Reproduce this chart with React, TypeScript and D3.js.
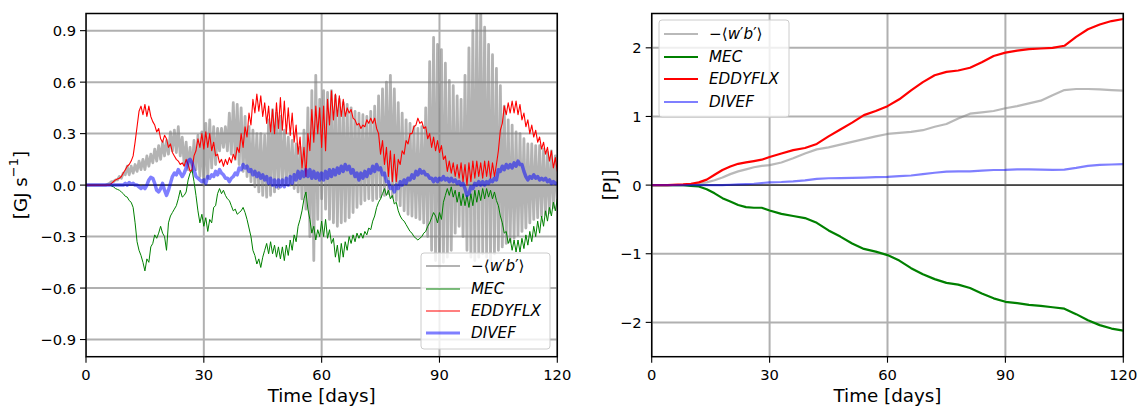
import React from "react";
import * as d3 from "d3";

// ---------- Left panel: instantaneous rates [GJ s^-1], sampled every 0.5 day ----------
const rateDays = d3.range(0, 120.5, 0.5);

const wbRate = [
  0, 0, 0, 0, 0, 0, 0, 0, 0, 0,
  0, 0.005, 0.01, 0.02, 0.02, 0.03, 0.03, 0.05, 0.04, 0.07,
  0.06, 0.11, 0.06, 0.11, 0.07, 0.12, 0.08, 0.14, 0.09, 0.15,
  0.09, 0.17, 0.11, 0.18, 0.13, 0.21, 0.14, 0.23, 0.15, 0.25,
  0.17, 0.26, 0.18, 0.31, 0.2, 0.32, 0.19, 0.34, 0.17, 0.28,
  0.12, 0.25, 0.09, 0.22, 0.08, 0.26, 0.09, 0.29, 0.05, 0.31,
  0.0, 0.36, 0.04, 0.38, 0.1, 0.34, 0.12, 0.33, 0.2, 0.33,
  0.22, 0.34, 0.2, 0.42, 0.18, 0.48, 0.15, 0.47, 0.12, 0.45,
  0.08, 0.4, 0.05, 0.34, 0.02, 0.32, -0.01, 0.3, -0.04, 0.3,
  -0.06, 0.29, -0.07, 0.38, -0.06, 0.44, -0.04, 0.42, -0.02, 0.4,
  0.0, 0.32, 0.01, 0.28, 0.0, 0.26, -0.02, 0.24, -0.04, 0.22,
  -0.08, 0.32, -0.14, 0.45, -0.3, 0.55, -0.44, 0.64, -0.2, 0.5,
  -0.08, 0.55, -0.14, 0.54, -0.2, 0.55, -0.22, 0.52, -0.24, 0.5,
  -0.22, 0.48, -0.21, 0.47, -0.19, 0.45, -0.16, 0.43, -0.13, 0.42,
  -0.11, 0.41, -0.09, 0.4, -0.08, 0.43, -0.09, 0.46, -0.08, 0.52,
  -0.07, 0.56, -0.06, 0.6, -0.05, 0.64, -0.07, 0.56, -0.09, 0.48,
  -0.12, 0.42, -0.15, 0.38, -0.17, 0.36, -0.18, 0.34, -0.19, 0.33,
  -0.2, 0.34, -0.22, 0.45, -0.3, 0.72, -0.38, 0.86, -0.44, 0.82,
  -0.48, 0.79, -0.45, 0.71, -0.42, 0.61, -0.38, 0.58, -0.28, 0.52,
  -0.24, 0.5, -0.3, 0.64, -0.38, 0.8, -0.42, 0.9, -0.44, 1.0,
  -0.42, 1.05, -0.4, 0.92, -0.42, 0.82, -0.44, 0.76, -0.4, 0.68,
  -0.38, 0.58, -0.36, 0.46, -0.34, 0.38, -0.33, 0.35, -0.31, 0.31,
  -0.29, 0.3, -0.27, 0.27, -0.25, 0.24, -0.22, 0.24, -0.2, 0.23,
  -0.19, 0.23, -0.18, 0.21, -0.17, 0.19, -0.16, 0.2, -0.13, 0.17,
  -0.1,
];

const mecRate = [
  0, 0, 0, 0, 0, 0, 0, 0, 0, 0,
  0, 0, 0, -0.005, -0.01, -0.02, -0.025, -0.03, -0.04, -0.05,
  -0.065, -0.07, -0.09, -0.1, -0.13, -0.22, -0.33, -0.38, -0.41, -0.45,
  -0.5, -0.43, -0.45, -0.36, -0.34, -0.29, -0.31, -0.28, -0.24, -0.28,
  -0.3, -0.38, -0.22, -0.18, -0.16, -0.14, -0.12, -0.08, -0.03, -0.07,
  -0.06, -0.04, 0.03, 0.07, 0.09, 0.02, -0.06, -0.15, -0.22, -0.17,
  -0.24, -0.19, -0.27, -0.2, -0.22, -0.13, -0.12, -0.05, -0.02, -0.05,
  -0.03, -0.06, -0.08, -0.09, -0.12, -0.15, -0.14, -0.17, -0.16, -0.15,
  -0.13, -0.16, -0.2, -0.25, -0.3, -0.38, -0.41, -0.46, -0.43, -0.48,
  -0.42, -0.38, -0.34, -0.4, -0.33, -0.4, -0.35, -0.42, -0.36, -0.43,
  -0.36, -0.44, -0.35, -0.41, -0.32, -0.38, -0.29, -0.33, -0.24, -0.2,
  -0.15, -0.08, -0.04, -0.14, -0.2, -0.28, -0.24, -0.32, -0.26, -0.3,
  -0.21, -0.3, -0.2, -0.31, -0.26, -0.34, -0.31, -0.42, -0.35, -0.45,
  -0.34, -0.42, -0.33, -0.38, -0.3, -0.34, -0.29, -0.33, -0.28, -0.31,
  -0.28, -0.31, -0.27, -0.29, -0.25, -0.26, -0.21, -0.18, -0.13, -0.1,
  -0.08, -0.05, -0.02, -0.06, -0.03, -0.08, -0.06, -0.11, -0.1, -0.15,
  -0.18, -0.2, -0.21, -0.23, -0.25, -0.27, -0.28, -0.3, -0.31, -0.32,
  -0.31, -0.3, -0.28, -0.27, -0.24, -0.22, -0.19, -0.16, -0.18, -0.22,
  -0.16, -0.2, -0.1, -0.06, -0.02, -0.06, -0.01, -0.07, -0.03, -0.1,
  -0.04, -0.12, -0.05, -0.12, -0.06, -0.13, -0.05, -0.12, -0.03, -0.1,
  -0.03, -0.09, -0.02, -0.08, -0.02, -0.07, -0.03, -0.08, -0.04, -0.09,
  -0.12, -0.18, -0.22, -0.28, -0.27, -0.34, -0.31, -0.38, -0.32, -0.39,
  -0.32, -0.39, -0.31, -0.37, -0.29, -0.35, -0.27, -0.33, -0.24, -0.3,
  -0.21, -0.28, -0.18, -0.24, -0.15, -0.21, -0.13, -0.18, -0.1, -0.15,
  -0.08,
];

const eddyRate = [
  0, 0, 0, 0, 0, 0, 0, 0, 0, 0,
  0, 0, 0, 0.01, 0.02, 0.03, 0.035, 0.04, 0.05, 0.07,
  0.09, 0.11, 0.12, 0.14, 0.17, 0.25, 0.34, 0.43, 0.46, 0.41,
  0.47, 0.4, 0.46, 0.4, 0.37, 0.35, 0.31, 0.33, 0.27, 0.25,
  0.29, 0.27, 0.22, 0.24, 0.19, 0.17, 0.15, 0.14, 0.12, 0.13,
  0.11, 0.15, 0.12, 0.08, 0.09, 0.17, 0.2, 0.27, 0.22, 0.3,
  0.21, 0.31, 0.22, 0.3, 0.2, 0.25, 0.17, 0.18, 0.13, 0.15,
  0.11, 0.15, 0.12, 0.16, 0.13, 0.18, 0.15, 0.22, 0.19, 0.3,
  0.22, 0.34, 0.28, 0.42, 0.35, 0.5, 0.42, 0.53, 0.43, 0.52,
  0.4, 0.48, 0.36, 0.46, 0.31, 0.44, 0.3, 0.48, 0.33, 0.51,
  0.32, 0.49, 0.3, 0.45, 0.29, 0.42, 0.25, 0.35, 0.18, 0.28,
  0.1, 0.22, 0.05, 0.3, 0.2, 0.44, 0.25, 0.46, 0.3, 0.45,
  0.22, 0.46, 0.2, 0.5, 0.35, 0.55, 0.38, 0.53, 0.4, 0.52,
  0.4, 0.5, 0.4, 0.45, 0.42, 0.44, 0.39, 0.38, 0.35, 0.36,
  0.33, 0.35, 0.34, 0.38, 0.36, 0.39, 0.36, 0.39, 0.33, 0.3,
  0.18, 0.26, 0.12, 0.22, 0.05, 0.2, 0.02, 0.18, 0.02, 0.15,
  0.12, 0.2, 0.18, 0.26, 0.24, 0.3, 0.3, 0.34, 0.35, 0.39,
  0.36, 0.37, 0.33, 0.34, 0.27, 0.3, 0.22, 0.28, 0.2, 0.26,
  0.19, 0.23, 0.15, 0.17, 0.08, 0.14, 0.07, 0.13, 0.05, 0.12,
  0.04, 0.13, 0.02, 0.12, 0.0, 0.13, 0.02, 0.14, 0.04, 0.14,
  0.05, 0.13, 0.04, 0.14, 0.05, 0.14, 0.04, 0.13, 0.05, 0.12,
  0.2, 0.32, 0.36, 0.46, 0.41, 0.48, 0.42, 0.49, 0.42, 0.49,
  0.41, 0.47, 0.38, 0.42, 0.34, 0.38, 0.3, 0.35, 0.28, 0.32,
  0.25, 0.28, 0.21, 0.25, 0.18, 0.22, 0.14, 0.2, 0.1, 0.16,
  0.08,
];

const divefRate = [
  0, 0, 0, 0, 0, 0, 0, 0, 0, 0,
  0, 0, 0, 0, 0, 0, 0, 0, 0, 0,
  0.01, 0.0, 0.015, 0.005, 0.01, 0.0, 0.0, -0.01, -0.02, -0.01,
  -0.02, 0.0, 0.03, 0.045, 0.04, 0.01, -0.03, -0.04, -0.02, 0.01,
  -0.03, -0.06, -0.03, 0.01, 0.05, 0.07, 0.06, 0.09, 0.07, 0.05,
  0.07, 0.1, 0.14, 0.15, 0.13, 0.09, 0.05, 0.04, 0.03, 0.02,
  0.03, 0.01, 0.05, 0.04, 0.06, 0.05, 0.08, 0.06, 0.09, 0.07,
  0.06, 0.04, 0.04, 0.02, 0.04, 0.05, 0.07, 0.06, 0.1, 0.09,
  0.12, 0.1, 0.11, 0.08, 0.09, 0.06, 0.08, 0.05, 0.07, 0.04,
  0.06, 0.03, 0.05, 0.01, 0.04, 0.0, 0.03, -0.01, 0.03, -0.01,
  0.03, -0.01, 0.04, 0.0, 0.05, 0.01, 0.06, 0.03, 0.08, 0.04,
  0.08, 0.05, 0.09, 0.05, 0.09, 0.04, 0.08, 0.04, 0.07, 0.03,
  0.07, 0.03, 0.08, 0.04, 0.09, 0.05, 0.09, 0.06, 0.1, 0.07,
  0.11, 0.08, 0.12, 0.09, 0.11, 0.07, 0.09, 0.05, 0.07, 0.03,
  0.07, 0.04, 0.08, 0.05, 0.09, 0.07, 0.11, 0.08, 0.12, 0.09,
  0.1, 0.06, 0.07, 0.02, 0.02, -0.02, -0.01, -0.04, 0.0, -0.02,
  0.02, 0.0, 0.03, 0.01, 0.04, 0.03, 0.06, 0.04, 0.08, 0.06,
  0.09, 0.07, 0.08, 0.06, 0.06, 0.04, 0.04, 0.02, 0.04, 0.02,
  0.04, 0.03, 0.05, 0.03, 0.04, 0.02, 0.04, 0.02, 0.03, 0.01,
  0.02, 0.0, 0.01, -0.02, -0.06, -0.05, -0.01, -0.02, 0.01, 0.0,
  0.02, 0.0, 0.02, 0.0, 0.02, 0.01, 0.03, 0.02, 0.04, 0.03,
  0.09, 0.08, 0.11, 0.09, 0.12, 0.1, 0.12, 0.1, 0.13, 0.11,
  0.14, 0.12, 0.12, 0.08, 0.05, 0.03, 0.05, 0.04, 0.06, 0.04,
  0.05, 0.03, 0.04, 0.03, 0.04, 0.02, 0.03, 0.01, 0.02, 0.01,
  0.01,
];

// ---------- Right panel: time-integrated energy [PJ] ----------
const cumDays = [0, 4, 8, 10, 12, 14, 16, 18, 20, 22, 24, 26, 28, 30, 33, 36, 39, 42, 45, 48, 51, 54, 57, 60, 63, 66, 69, 72, 75, 78, 81, 84, 87, 90, 93, 96, 99, 102, 105, 108, 111, 114, 117, 120];
const wbCum = [0, 0, 0, 0.01, 0.02, 0.04, 0.07, 0.11, 0.16, 0.2, 0.23, 0.26, 0.28, 0.29, 0.33, 0.39, 0.46, 0.52, 0.55, 0.59, 0.63, 0.67, 0.71, 0.745, 0.76, 0.775, 0.8, 0.85, 0.89, 0.97, 1.04, 1.06, 1.08, 1.12, 1.15, 1.19, 1.23, 1.31, 1.385, 1.4, 1.4, 1.395, 1.385, 1.375];
const mecCum = [0, 0, 0, -0.01, -0.02, -0.06, -0.12, -0.19, -0.24, -0.29, -0.32, -0.33, -0.33, -0.37, -0.42, -0.45, -0.48, -0.55, -0.66, -0.75, -0.85, -0.93, -0.97, -1.02, -1.1, -1.21, -1.3, -1.37, -1.425, -1.45, -1.5, -1.58, -1.65, -1.7, -1.72, -1.745, -1.76, -1.78, -1.8, -1.88, -1.97, -2.04, -2.09, -2.12];
const eddyCum = [0, 0, 0.01, 0.02, 0.04, 0.08, 0.15, 0.22, 0.27, 0.31, 0.33, 0.35, 0.37, 0.41, 0.46, 0.51, 0.54, 0.6, 0.71, 0.81, 0.91, 1.02, 1.08, 1.15, 1.25, 1.38, 1.5, 1.6, 1.65, 1.67, 1.71, 1.79, 1.88, 1.93, 1.96, 1.98, 1.99, 2.0, 2.03, 2.16, 2.27, 2.34, 2.39, 2.42];
const divefCum = [0, 0, 0, 0, 0, 0, 0, 0, 0.005, 0.01, 0.015, 0.02, 0.03, 0.04, 0.045, 0.055, 0.07, 0.09, 0.1, 0.103, 0.106, 0.11, 0.115, 0.12, 0.13, 0.14, 0.16, 0.18, 0.195, 0.2, 0.2, 0.21, 0.22, 0.222, 0.228, 0.23, 0.225, 0.222, 0.225, 0.25, 0.28, 0.295, 0.3, 0.305];

const xTicks = [0, 30, 60, 90, 120];
const leftYTicks = [-0.9, -0.6, -0.3, 0, 0.3, 0.6, 0.9];
const rightYTicks = [-2, -1, 0, 1, 2];
const seriesNames = ["wb", "MEC", "EDDYFLX", "DIVEF"];

const FONT = "'DejaVu Sans', sans-serif";
const TICK_FS = 14.7;
const LABEL_FS = 18.3;
const LEG_FS = 15.2;
const minus = (s: string) => s.replace("-", "\u2212");

type Style = { color: string; opacity: number; width: number; legendWidth: number };

function LegendLabel({ name, x, y }: { name: string; x: number; y: number }) {
  if (name === "wb") {
    return (
      <text x={x} y={y} fontSize={LEG_FS} fontFamily={FONT} dominantBaseline="central" fill="#000">
        <tspan>{"\u2212\u27e8"}</tspan>
        <tspan fontStyle="italic">w</tspan>
        <tspan>{"\u2032"}</tspan>
        <tspan fontStyle="italic">b</tspan>
        <tspan>{"\u2032\u27e9"}</tspan>
      </text>
    );
  }
  return (
    <text x={x} y={y} fontSize={LEG_FS} fontFamily={FONT} fontStyle="italic" dominantBaseline="central" fill="#000">
      {name}
    </text>
  );
}

function Legend({ x0, y0, w, h, rows, styles }: { x0: number; y0: number; w: number; h: number; rows: number[]; styles: Style[] }) {
  return (
    <g>
      <rect x={x0} y={y0} width={w} height={h} rx={3} fill="#fff" fillOpacity={0.8} stroke="#cccccc" strokeWidth={1} />
      {seriesNames.map((n, i) => (
        <g key={n}>
          <line x1={x0 + 5} x2={x0 + 39} y1={rows[i]} y2={rows[i]} stroke={styles[i].color} strokeOpacity={styles[i].opacity} strokeWidth={styles[i].legendWidth} />
          <LegendLabel name={n} x={x0 + 50} y={rows[i]} />
        </g>
      ))}
    </g>
  );
}

function Panel({
  id, left, right, top, bottom, yDomain, yTicks, fmt, series, xs, styles, children,
}: {
  id: string; left: number; right: number; top: number; bottom: number;
  yDomain: [number, number]; yTicks: number[]; fmt: (v: number) => string;
  series: number[][]; xs: number[]; styles: Style[]; children?: React.ReactNode;
}) {
  const x = d3.scaleLinear().domain([0, 120]).range([left, right]);
  const y = d3.scaleLinear().domain(yDomain).range([bottom, top]);
  const line = d3.line<number>().x((_, i) => x(xs[i])).y((d) => y(d));
  return (
    <g>
      <defs>
        <clipPath id={id}>
          <rect x={left} y={top} width={right - left} height={bottom - top} />
        </clipPath>
      </defs>
      <g clipPath={`url(#${id})`}>
        {xTicks.map((t) => (
          <line key={"gx" + t} x1={x(t)} x2={x(t)} y1={top} y2={bottom} stroke="#b0b0b0" strokeWidth={2} />
        ))}
        {yTicks.map((t) => (
          <line key={"gy" + t} x1={left} x2={right} y1={y(t)} y2={y(t)} stroke="#b0b0b0" strokeWidth={2} />
        ))}
        <line x1={left} x2={right} y1={y(0)} y2={y(0)} stroke="#000" strokeOpacity={0.6} strokeWidth={1.7} />
        {series.map((s, i) => (
          <path key={i} d={line(s) || ""} fill="none" stroke={styles[i].color} strokeOpacity={styles[i].opacity} strokeWidth={styles[i].width} strokeLinejoin="round" />
        ))}
      </g>
      <rect x={left} y={top} width={right - left} height={bottom - top} fill="none" stroke="#000" strokeWidth={1.5} />
      {xTicks.map((t) => (
        <g key={"tx" + t}>
          <line x1={x(t)} x2={x(t)} y1={bottom} y2={bottom + 6} stroke="#000" strokeWidth={1.1} />
          <text x={x(t)} y={bottom + 23.5} textAnchor="middle" fontSize={TICK_FS} fontFamily={FONT} fill="#000">{t}</text>
        </g>
      ))}
      {yTicks.map((t) => (
        <g key={"ty" + t}>
          <line x1={left - 6} x2={left} y1={y(t)} y2={y(t)} stroke="#000" strokeWidth={1.1} />
          <text x={left - 10} y={y(t)} textAnchor="end" dominantBaseline="central" fontSize={TICK_FS} fontFamily={FONT} fill="#000">{fmt(t)}</text>
        </g>
      ))}
      <text x={(left + right) / 2} y={401.5} textAnchor="middle" fontSize={LABEL_FS} fontFamily={FONT} fill="#000">Time [days]</text>
      {children}
    </g>
  );
}

export default function App() {
  const leftStyles: Style[] = [
    { color: "#808080", opacity: 0.6, width: 2.8, legendWidth: 2 },
    { color: "#008000", opacity: 1, width: 1, legendWidth: 1.2 },
    { color: "#ff0000", opacity: 1, width: 1.1, legendWidth: 1.1 },
    { color: "#0000ff", opacity: 0.5, width: 3.5, legendWidth: 3 },
  ];
  const rightStyles: Style[] = [
    { color: "#808080", opacity: 0.55, width: 2.2, legendWidth: 2.2 },
    { color: "#008000", opacity: 1, width: 2.2, legendWidth: 2.2 },
    { color: "#ff0000", opacity: 1, width: 2.2, legendWidth: 2.2 },
    { color: "#0000ff", opacity: 0.5, width: 2.2, legendWidth: 2.2 },
  ];
  return (
    <svg width={1142} height={406} style={{ position: "absolute", left: 0, top: 0, background: "#fff" }}>
      <rect width={1142} height={406} fill="#fff" />
      <Panel
        id="clipL" left={86} right={557.3} top={13.5} bottom={356.7}
        yDomain={[-1, 1]} yTicks={leftYTicks} fmt={(v) => minus(v.toFixed(1))}
        series={[wbRate, mecRate, eddyRate, divefRate]} xs={rateDays} styles={leftStyles}
      >
        <text transform="translate(20,185) rotate(-90)" textAnchor="middle" dominantBaseline="central" fontSize={LABEL_FS} fontFamily={FONT} fill="#000">
          <tspan>[GJ s</tspan>
          <tspan dy={-7} fontSize={13}>{"\u22121"}</tspan>
          <tspan dy={7}>]</tspan>
        </text>
        <Legend x0={421} y0={253} w={129} h={96} rows={[266, 289, 311, 333]} styles={leftStyles} />
      </Panel>
      <Panel
        id="clipR" left={651.7} right={1123.3} top={13.5} bottom={356.7}
        yDomain={[-2.5, 2.5]} yTicks={rightYTicks} fmt={(v) => minus(String(v))}
        series={[wbCum, mecCum, eddyCum, divefCum]} xs={cumDays} styles={rightStyles}
      >
        <text transform="translate(609,185) rotate(-90)" textAnchor="middle" dominantBaseline="central" fontSize={LABEL_FS} fontFamily={FONT} fill="#000">[PJ]</text>
        <Legend x0={659} y0={20} w={130} h={97} rows={[34, 57, 79, 102]} styles={rightStyles} />
      </Panel>
    </svg>
  );
}
